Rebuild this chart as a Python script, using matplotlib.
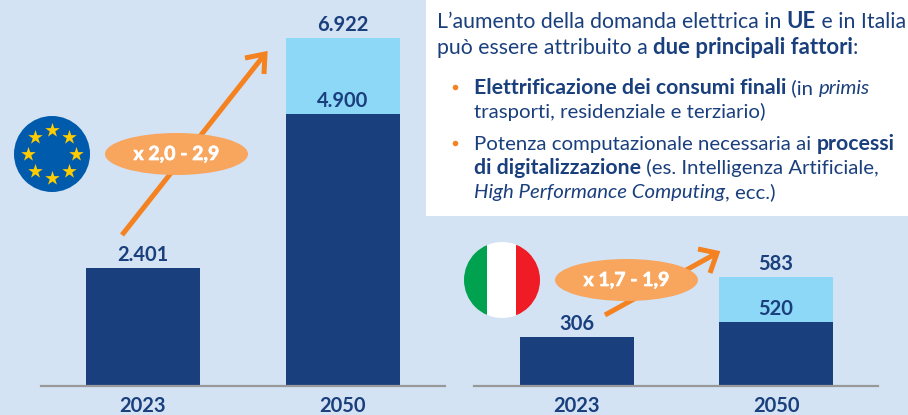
import numpy as np
import matplotlib
matplotlib.use('Agg')
import matplotlib.pyplot as plt
import matplotlib.patheffects as pe
from matplotlib.patches import Circle, Ellipse, Rectangle

plt.rcParams['font.family'] = ['Lato', 'DejaVu Sans']

years = ['2023', '2050']

# bar heights (the original is not drawn to scale)
eu_low = [118, 272]
eu_extra = [0, 76]
eu_low_labels = ['2.401', '4.900']
eu_top_label = '6.922'
it_low = [49, 64]
it_extra = [0, 45]
it_low_labels = ['306', '520']
it_top_label = '583'

eu_factor = 'x 2,0 - 2,9'
it_factor = 'x 1,7 - 1,9'

intro = [
    [("L’aumento della domanda elettrica in ", 'normal', 'normal'), ("UE", 'bold', 'normal'), (" e in Italia", 'normal', 'normal')],
    [("può essere attribuito a ", 'normal', 'normal'), ("due principali fattori", 'bold', 'normal'), (":", 'normal', 'normal')],
]
bullets = [
    [("Elettrificazione dei consumi finali", 'bold', 'normal'), (" (in ", 'normal', 'normal'), ("primis", 'normal', 'italic')],
    [("trasporti, residenziale e terziario)", 'normal', 'normal')],
    [("Potenza computazionale necessaria ai ", 'normal', 'normal'), ("processi", 'bold', 'normal')],
    [("di digitalizzazione", 'bold', 'normal'), (" (es. Intelligenza Artificiale,", 'normal', 'normal')],
    [("High Performance Computing", 'normal', 'italic'), (", ecc.)", 'normal', 'normal')],
]

NAVY = '#1A3F7D'
LIGHT = '#8DD7F7'
ORANGE = '#F58220'
PEACH = '#F8A55E'
BG = '#D3E3F3'
W, H = 908, 415

fig = plt.figure(figsize=(W / 100, H / 100), dpi=100, facecolor=BG)


def bars(left, right, c0, c1, low, extra, low_labels, top_label):
    base = 386
    ax = fig.add_axes([left / W, (H - base) / H, (right - left) / W, base / H])
    ax.patch.set_visible(False)
    step = c1 - c0
    x = np.arange(len(low))
    ax.bar(x, low, width=114 / step, color=NAVY)
    ax.bar(x, extra, bottom=low, width=114 / step, color=LIGHT)
    ax.set_xlim((left - c0) / step, (right - c0) / step)
    ax.set_ylim(0, base)
    for s in ['top', 'left', 'right']:
        ax.spines[s].set_visible(False)
    ax.spines['bottom'].set_color('#999999')
    ax.spines['bottom'].set_linewidth(1.6)
    ax.set_yticks([])
    ax.set_xticks(x)
    ax.set_xticklabels(years, fontsize=14.5, fontweight='bold', color=NAVY)
    ax.tick_params(axis='x', length=0, pad=7)
    for i in x:
        ax.text(i, low[i] + 7, low_labels[i], ha='center', va='baseline',
                fontsize=14.5, fontweight='bold', color=NAVY)
    ax.text(1, low[1] + extra[1] + 7, top_label, ha='center', va='baseline',
            fontsize=14.5, fontweight='bold', color=NAVY)


bars(41, 445, 143, 343, eu_low, eu_extra, eu_low_labels, eu_top_label)
bars(474, 878, 577, 776, it_low, it_extra, it_low_labels, it_top_label)

# overlay in pixel coordinates for panel, flags, arrows and text
ov = fig.add_axes([0, 0, 1, 1])
ov.set_xlim(0, W)
ov.set_ylim(H, 0)
ov.axis('off')

ov.add_patch(Rectangle((426, 0), W - 426, 216, color='white', lw=0))


def growth(start, tip, leg1, leg2, centre, label):
    ov.plot([start[0], tip[0]], [start[1], tip[1]], color=ORANGE, lw=3.6, solid_capstyle='butt')
    ov.plot([leg1[0], tip[0], leg2[0]], [leg1[1], tip[1], leg2[1]], color=ORANGE, lw=3.6,
            solid_capstyle='butt', solid_joinstyle='miter')
    ov.add_patch(Ellipse(centre, 143, 42, color=PEACH, lw=0, zorder=3))
    ov.text(centre[0], centre[1] + 6, label, ha='center', va='baseline', color='white',
            fontsize=14, fontweight='bold', zorder=4,
            path_effects=[pe.withStroke(linewidth=0.5, foreground='white')])


growth((122, 235), (265, 54), (245, 58), (264, 74), (176.5, 154), eu_factor)
growth((605, 315), (717, 253), (698, 249), (710, 273), (626.5, 280), it_factor)

# EU flag
ov.add_patch(Circle((52, 154), 38, color='#005BAC', lw=0))
ang = np.deg2rad(np.arange(0, 360, 45))
ov.scatter(52 + 24 * np.cos(ang), 154 + 24 * np.sin(ang), marker='*', s=120, color='#FFCC00', lw=0, zorder=3)

# Italian flag
clip = Circle((502, 280), 38, transform=ov.transData)
for x0, x1, c in [(464, 487, '#00A14F'), (487, 516, 'white'), (516, 540, '#EF1C25')]:
    r = ov.add_patch(Rectangle((x0, 242), x1 - x0, 76, color=c, lw=0))
    r.set_clip_path(clip)


def rich(x, y, runs, size):
    rend = fig.canvas.get_renderer()
    for txt, weight, style in runs:
        # bold runs of the reference font are wider than Lato's
        sz = size * 1.04 if weight == 'bold' else size
        ov.text(x, y, txt, fontsize=sz, fontweight=weight, fontstyle=style, color=NAVY,
                ha='left', va='baseline', clip_on=False)
        # spaces at the ends are not measured, so measure with no-break spaces
        g = ov.text(0, 0, txt.replace(' ', '\u00a0'), fontsize=sz, fontweight=weight, fontstyle=style)
        x += g.get_window_extent(rend).width
        g.remove()


for runs, y in zip(intro, [28, 54]):
    rich(437, y, runs, 15.3)
for runs, y in zip(bullets, [94, 118, 150, 174, 198]):
    rich(474, y, runs, 14.7)
ov.scatter([455, 455], [87, 143], s=16, color=ORANGE, lw=0)

plt.savefig('out.png', dpi=100, facecolor=BG)
